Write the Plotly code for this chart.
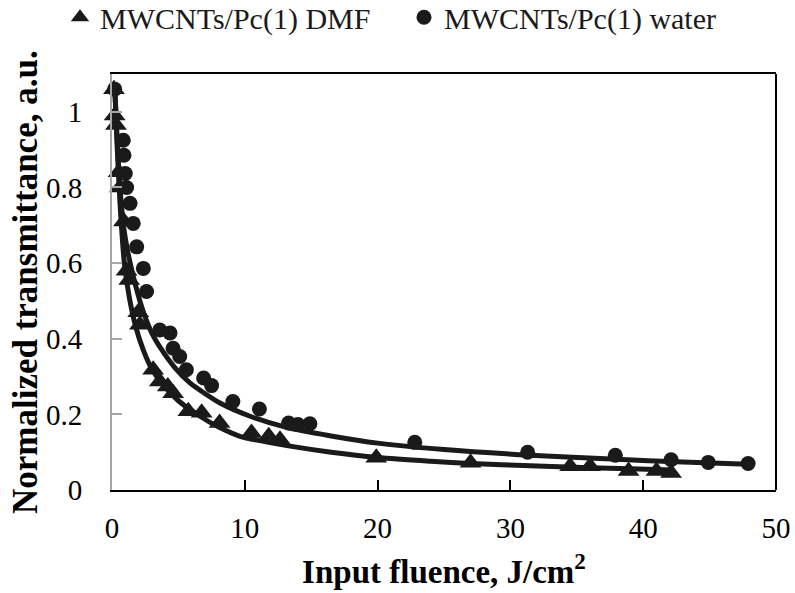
import plotly.graph_objects as go

# ---- data ----
dmf_x = [0.15, 0.2, 0.3, 0.5, 0.6, 0.9, 1.1, 1.3, 1.98, 2.1, 3.1, 3.6, 4.2, 4.6, 5.75, 6.75,
         8.1, 10.5, 11.8, 12.65, 19.9, 27.0, 34.5, 36.0, 38.9, 41.0, 42.1]
dmf_y = [1.06, 0.99, 0.965, 0.84, 0.80, 0.71, 0.58, 0.555, 0.47, 0.437, 0.318, 0.287, 0.274,
         0.256, 0.208, 0.204, 0.177, 0.151, 0.142, 0.133, 0.085, 0.072, 0.063, 0.063, 0.05,
         0.05, 0.045]

water_x = [0.2, 0.85, 0.9, 1.0, 1.1, 1.36, 1.6, 1.86, 2.36, 2.6, 3.6, 4.37, 4.6, 5.1, 5.6, 6.9,
           7.5, 9.1, 11.1, 13.3, 14.0, 14.9, 22.8, 31.3, 37.9, 42.1, 44.9, 47.9]
water_y = [1.06, 0.925, 0.885, 0.837, 0.80, 0.758, 0.705, 0.643, 0.586, 0.525, 0.423, 0.415,
           0.375, 0.353, 0.318, 0.296, 0.276, 0.234, 0.214, 0.177, 0.173, 0.175, 0.126, 0.10,
           0.092, 0.08, 0.073, 0.07]

fit_dmf_x = [0.2, 0.4, 0.6, 0.93, 1.3, 1.8, 2.36, 3.0, 3.74, 5.0, 6.63, 8.0, 9.64, 11.5, 13.4,
             16.5, 20, 24, 27, 31.5, 36, 39, 42.2]
fit_dmf_y = [1.07, 0.90, 0.76, 0.60, 0.51, 0.43, 0.37, 0.32, 0.283, 0.236, 0.195, 0.167, 0.142,
             0.128, 0.116, 0.100, 0.086, 0.076, 0.070, 0.064, 0.059, 0.056, 0.053]

fit_water_x = [0.2, 0.4, 0.6, 0.9, 1.13, 1.4, 1.73, 2.1, 2.48, 3.0, 3.74, 4.7, 5.87, 7.0, 8.13,
               10.4, 13.2, 16.5, 20, 25, 31.5, 38, 43, 47.9]
fit_water_y = [1.07, 0.92, 0.80, 0.69, 0.64, 0.595, 0.547, 0.50, 0.459, 0.415, 0.371, 0.325,
               0.283, 0.255, 0.230, 0.195, 0.165, 0.143, 0.124, 0.107, 0.092, 0.081, 0.074,
               0.068]

x_ticks = [0, 10, 20, 30, 40, 50]
y_ticks = [0, 0.2, 0.4, 0.6, 0.8, 1]
y_tick_text = ["0", "0.2", "0.4", "0.6", "0.8", "1"]

name_dmf = "MWCNTs/Pc(1) DMF"
name_water = "MWCNTs/Pc(1) water"
x_title = "<b>Input fluence, J/cm<sup>2</sup></b>"
y_title = "<b>Normalized transmittance, a.u.</b>"

INK = "#1a1a1a"
SERIF = "Liberation Serif"

fig = go.Figure()
fig.add_trace(go.Scatter(x=fit_dmf_x, y=fit_dmf_y, mode="lines", showlegend=False,
                         line=dict(color=INK, width=5, shape="spline", smoothing=0.8),
                         hoverinfo="skip"))
fig.add_trace(go.Scatter(x=fit_water_x, y=fit_water_y, mode="lines", showlegend=False,
                         line=dict(color=INK, width=5, shape="spline", smoothing=0.8),
                         hoverinfo="skip"))
fig.add_trace(go.Scatter(x=dmf_x, y=dmf_y, mode="markers", name=name_dmf, legend="legend",
                         marker=dict(symbol="triangle-up", size=19, color=INK),
                         cliponaxis=False))
fig.add_trace(go.Scatter(x=water_x, y=water_y, mode="markers", name=name_water, legend="legend2",
                         marker=dict(symbol="circle", size=15, color=INK),
                         cliponaxis=False))

fig.update_layout(
    width=795, height=593,
    margin=dict(l=112, r=19, t=74, b=103, autoexpand=False),
    paper_bgcolor="white", plot_bgcolor="white",
    font=dict(family=SERIF, color="black", size=28),
    legend=dict(xref="container", yref="paper", x=60 / 795, y=1.199,
                xanchor="left", yanchor="top", orientation="h",
                font=dict(family=SERIF, size=30, color=INK), bgcolor="rgba(0,0,0,0)"),
    legend2=dict(xref="container", yref="paper", x=404 / 795, y=1.199,
                 xanchor="left", yanchor="top", orientation="h",
                 font=dict(family=SERIF, size=30, color=INK), bgcolor="rgba(0,0,0,0)"),
    shapes=[dict(type="line", xref="paper", yref="paper", x0=1, x1=1, y0=0, y1=1,
                 line=dict(color="black", width=2))],
    annotations=[dict(text=y_title, xref="paper", yref="paper", x=-0.131, y=0.5,
                      xanchor="center", yanchor="middle", textangle=-90, showarrow=False,
                      font=dict(family=SERIF, size=35, color="black"))],
)

fig.update_xaxes(
    range=[0, 50], tickmode="array", tickvals=x_ticks, ticktext=[str(v) for v in x_ticks],
    showline=True, linecolor="black", linewidth=2, mirror=True,
    ticks="inside", ticklen=10, tickwidth=1.5, tickcolor="black",
    showgrid=False, zeroline=False, ticklabelstandoff=11, automargin=False,
    tickfont=dict(family=SERIF, size=29, color="black"),
    title=dict(text=x_title, standoff=17,
               font=dict(family=SERIF, size=33, color="black")),
)
fig.update_yaxes(
    range=[0, 1.1], tickmode="array", tickvals=y_ticks, ticktext=y_tick_text,
    showline=True, linecolor="#a6a6a6", linewidth=2, mirror=False,
    ticks="inside", ticklen=10, tickwidth=1.5, tickcolor="#a6a6a6",
    showgrid=False, zeroline=False, ticklabelstandoff=22, automargin=False,
    tickfont=dict(family=SERIF, size=29, color="black"),
)

fig.write_html("out.html", config={"displayModeBar": False},
               post_script="document.body.style.margin='0';document.body.style.overflow='hidden';")
